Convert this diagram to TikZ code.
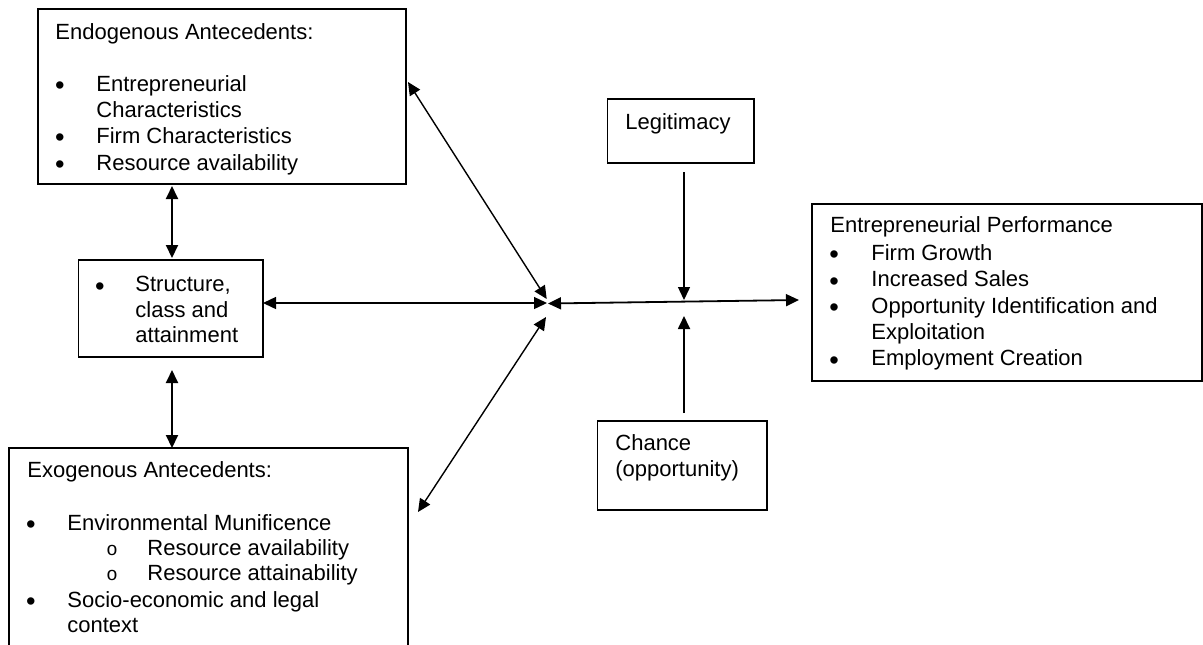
\documentclass[tikz,border=0pt]{standalone}
\usepackage{fontspec}
\setmainfont{Liberation Sans}
\newfontfamily\monofnt{Liberation Mono}
\usetikzlibrary{arrows.meta}
\begin{document}
\begin{tikzpicture}[x=0.5pt,y=-0.5pt,
  box/.style={draw, line width=0.7pt, rectangle, inner sep=0pt, outer sep=0pt},
  txt/.style={anchor=base west, inner sep=0pt, font=\fontsize{11}{13}\selectfont},
  bul/.style={anchor=base, inner sep=0pt, yshift=-1.75pt, font=\fontsize{13.6}{14}\selectfont},
  sub/.style={anchor=base, inner sep=0pt, font=\monofnt\fontsize{9.5}{11}\selectfont},
  dbl/.style={{Triangle[length=6.5pt,width=6pt]}-{Triangle[length=6.5pt,width=6pt]}, line width=0.7pt},
  one/.style={-{Triangle[length=6.5pt,width=6pt]}, line width=0.7pt}]
\useasboundingbox (0,0) rectangle (1203,644);
\fill[white] (0,0) rectangle (1203,644);

% boxes
\node[box, minimum width=184pt, minimum height=87.5pt] (endo) at (222,96.5) {};
\node[box, minimum width=92.25pt, minimum height=48.5pt] (struct) at (170.75,308.5) {};
\node[box, minimum width=199.5pt, minimum height=106pt] (exo) at (208.5,554) {};
\node[box, minimum width=73.25pt, minimum height=32pt] (legit) at (680.75,131) {};
\node[box, minimum width=84.75pt, minimum height=44.5pt] (chance) at (682.25,465.5) {};
\node[box, minimum width=195pt, minimum height=88.5pt] (perf) at (1007,292.5) {};

% endogenous text
\node[txt] (en0) at (55,39) {Endogenous Antecedents:};
\node[bul] (enb1) at (60,91) {\textbullet};
\node[txt] (en1) at (96,91) {Entrepreneurial};
\node[txt] (en2) at (96,117) {Characteristics};
\node[bul] (enb3) at (60,143) {\textbullet};
\node[txt] (en3) at (96,143) {Firm Characteristics};
\node[bul] (enb4) at (60,170) {\textbullet};
\node[txt] (en4) at (96,170) {Resource availability};

% structure text
\node[bul] (stb) at (100,291.5) {\textbullet};
\node[txt] (st1) at (135,291.5) {Structure,};
\node[txt] (st2) at (135,317) {class and};
\node[txt] (st3) at (135,342.5) {attainment};

% exogenous text
\node[txt] (ex0) at (27,477.5) {Exogenous Antecedents:};
\node[bul] (exb1) at (31,530) {\textbullet};
\node[txt] (ex1) at (67,530) {Environmental Munificence};
\node[sub] (exs2) at (112,555) {o};
\node[txt] (ex2) at (147,555) {Resource availability};
\node[sub] (exs3) at (112,580.5) {o};
\node[txt] (ex3) at (147,580.5) {Resource attainability};
\node[bul] (exb4) at (31,607) {\textbullet};
\node[txt] (ex4) at (67,607) {Socio-economic and legal};
\node[txt] (ex5) at (67,632.5) {context};

% legitimacy / chance
\node[txt] (lg) at (625,129.5) {Legitimacy};
\node[txt] (ch1) at (615,450) {Chance};
\node[txt] (ch2) at (615,476.5) {(opportunity)};

% performance text
\node[txt] (pf0) at (830,232.5) {Entrepreneurial Performance};
\node[bul] (pfb1) at (834,260) {\textbullet};
\node[txt] (pf1) at (871,260) {Firm Growth};
\node[bul] (pfb2) at (834,286.5) {\textbullet};
\node[txt] (pf2) at (871,286.5) {Increased Sales};
\node[bul] (pfb3) at (834,313) {\textbullet};
\node[txt] (pf3) at (871,313) {Opportunity Identification and};
\node[txt] (pf4) at (871,339) {Exploitation};
\node[bul] (pfb5) at (834,365.5) {\textbullet};
\node[txt] (pf5) at (871,365.5) {Employment Creation};

% connector coordinates
\coordinate (vx) at (172,0);
\coordinate (hubS) at (547,303);
\coordinate (hubE) at (546.7,299);
\coordinate (hubP) at (548,303.5);
\coordinate (hubX) at (546,317);
\coordinate (endoE) at (408,82);
\coordinate (exoE) at (418,512);
\coordinate (perfW) at (799,300);
\coordinate (lgS) at (684,172);
\coordinate (lgT) at (684,300);
\coordinate (chN) at (684,413);
\coordinate (chT) at (684,316);

% connectors
\draw[dbl, line width=1pt] ([yshift=-1pt]endo.south -| vx) -- ([yshift=1pt]struct.north -| vx);
\draw[dbl, line width=1pt] ([yshift=-6.5pt]struct.south -| vx) -- (exo.north -| vx);
\draw[dbl] (struct.east |- hubS) -- (hubS);
\draw[dbl] (endoE) -- (hubE);
\draw[dbl] (hubX) -- (exoE);
\draw[dbl, line width=0.9pt] (hubP) -- (perfW);
\draw[one] (lgS) -- (lgT);
\draw[one, line width=0.9pt] (chN) -- (chT);
\end{tikzpicture}
\end{document}
